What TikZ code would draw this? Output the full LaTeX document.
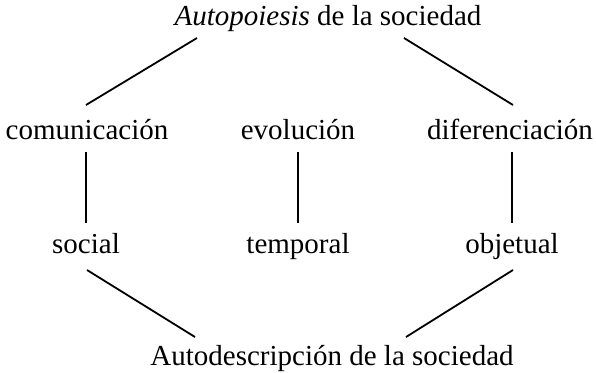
\documentclass[tikz,border=0pt]{standalone}
\usepackage{fontspec}
\setmainfont{Liberation Serif}
\usetikzlibrary{calc}

\begin{document}
\begin{tikzpicture}[
				x=1bp, y=1bp,
				term/.style={inner sep=0pt, anchor=base, font=\fontsize{29bp}{35bp}\selectfont},
				link/.style={line width=1.8bp}
				]
				\useasboundingbox (0,0) rectangle (596,372);
				\node[term] (autop) at (328,347) {\textit{Autopoiesis} de la sociedad};
				\node[term] (com) at (87,233) {comunicación};
				\node[term] (evo) at (298,233) {evolución};
				\node[term] (dif) at (510,233) {diferenciación};
				\node[term] (soc) at (86,119) {social};
				\node[term] (tem) at (298,119) {temporal};
				\node[term] (obj) at (512,119) {objetual};
				\node[term] (autod) at (332,7) {Autodescripción de la sociedad};
				\draw[link] ($(autop.base)+(-131,-13)$) -- ($(com.base)+(-1,34)$);
				\draw[link] ($(autop.base)+(76,-13)$) -- ($(dif.base)+(3,34)$);
				\draw[link] ($(com.base)+(-1,-13)$) -- ($(soc.base)+(0,30)$);
				\draw[link] ($(evo.base)+(0,-13)$) -- ($(tem.base)+(0,30)$);
				\draw[link] ($(dif.base)+(2,-13)$) -- ($(obj.base)+(0,30)$);
				\draw[link] ($(soc.base)+(1,-17)$) -- ($(autod.base)+(-137,28)$);
				\draw[link] ($(obj.base)+(1,-17)$) -- ($(autod.base)+(74,28)$);
			\end{tikzpicture}
\end{document}
